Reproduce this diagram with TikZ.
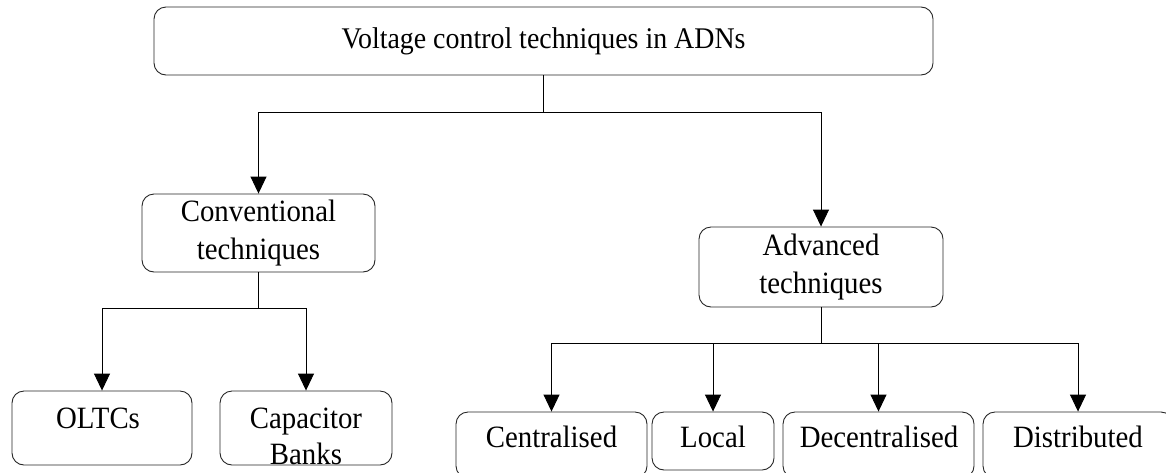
\documentclass[tikz,border=0pt]{standalone}
\usepackage{fontspec}
\setmainfont[FakeStretch=0.93]{Liberation Serif}
\usetikzlibrary{arrows.meta}
\begin{document}
\begin{tikzpicture}[x=1pt,y=-1pt,
  box/.style={draw=black!85, line width=0.9pt, rounded corners=12pt, inner sep=0pt},
  txt/.style={align=center, inner sep=0pt, font=\fontsize{31}{38}\selectfont},
  lbl/.style={inner sep=0pt, anchor=base, font=\fontsize{31}{36}\selectfont},
  conn/.style={draw=black, line width=0.9pt},
  arr/.style={conn, -{Triangle[length=17pt,width=16pt]}}]
\useasboundingbox (0,0) rectangle (1166,472);
% boxes with centred text
\node[box, txt, font=\fontsize{30}{38}\selectfont, minimum width=779pt, minimum height=68pt] (top) at (543.5,41) {Voltage control techniques in ADNs};
\node[box, txt, minimum width=233pt, minimum height=78pt] (conv) at (258.5,233) {Conventional\\techniques};
\node[box, txt, minimum width=244pt, minimum height=80pt] (adv) at (821,267) {Advanced\\techniques};
% leaf boxes
\node[box, minimum width=180pt, minimum height=74pt] (oltc) at (102,428) {};
\node[box, minimum width=172pt, minimum height=74pt] (cap) at (306,428) {};
\node[box, minimum width=191pt, minimum height=66pt] (cent) at (551.5,445) {};
\node[box, minimum width=122pt, minimum height=58pt] (local) at (713,441) {};
\node[box, minimum width=191pt, minimum height=66pt] (decent) at (878.5,445) {};
\node[box, minimum width=190pt, minimum height=66pt] (dist) at (1078,445) {};
% leaf labels
\node[lbl] (oltcT) at (98,428) {OLTCs};
\node[txt, font=\fontsize{31}{36}\selectfont] (capT) at (306,436.5) {Capacitor\\Banks};
\node[lbl] (centT) at (551.5,447) {Centralised};
\node[lbl] (localT) at (713,447) {Local};
\node[lbl] (decentT) at (879,447) {Decentralised};
\node[lbl] (distT) at (1078,447) {Distributed};
% connectors
\draw[conn] (top.south) -- ++(0,37) coordinate (j1);
\draw[arr] (j1) -| (conv.north);
\draw[arr] (j1) -| (adv.north);
\draw[conn] (conv.south) -- ++(0,36) coordinate (j2);
\draw[arr] (j2) -| (oltc.north);
\draw[arr] (j2) -| (cap.north);
\draw[conn] (adv.south) -- ++(0,36) coordinate (j3);
\draw[arr] (j3) -| (cent.north);
\draw[arr] (j3) -| (local.north);
\draw[arr] (j3) -| (decent.north);
\draw[arr] (j3) -| (dist.north);
\end{tikzpicture}
\end{document}
